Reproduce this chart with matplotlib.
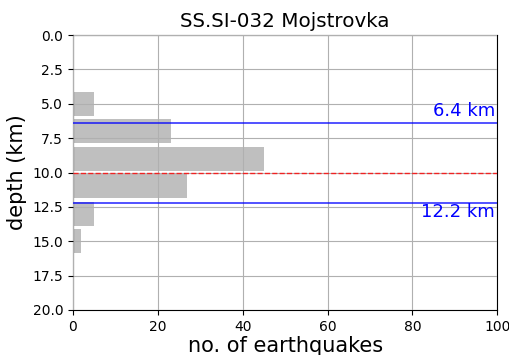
import matplotlib
matplotlib.use("Agg")
import matplotlib.pyplot as plt

title = "SS.SI-032 Mojstrovka"
depth_centers = [5, 7, 9, 11, 13, 15]
counts = [5, 23, 45, 27, 5, 2]
upper_depth = 6.4
lower_depth = 12.2
mean_depth = 10.0

fig = plt.figure(figsize=(5.1, 3.55), dpi=100)
ax = fig.add_axes([0.143, 0.127, 0.832, 0.774])
ax.barh(depth_centers, counts, height=1.75, color="gray", alpha=0.5, zorder=1)
ax.grid(True, zorder=3, color="#b0b0b0")
ax.set_axisbelow(False)
ax.axhline(upper_depth, color="blue", lw=1.2, alpha=0.8, zorder=4)
ax.axhline(lower_depth, color="blue", lw=1.2, alpha=0.8, zorder=4)
ax.axhline(mean_depth, color="red", ls="--", lw=1, alpha=0.8, zorder=4)
ax.text(99.5, upper_depth - 0.2, f"{upper_depth} km", color="blue", fontsize=13,
        ha="right", va="bottom")
ax.text(99.5, lower_depth + 0.0, f"{lower_depth} km", color="blue", fontsize=13,
        ha="right", va="top")
ax.set_xlim(0, 100)
ax.set_ylim(20, 0)
ax.set_yticks([0, 2.5, 5, 7.5, 10, 12.5, 15, 17.5, 20])
ax.set_xlabel("no. of earthquakes", fontsize=15, labelpad=2)
ax.set_ylabel("depth (km)", fontsize=15)
ax.set_title(title, fontsize=14.3)
fig.savefig("out.png", dpi=100)
